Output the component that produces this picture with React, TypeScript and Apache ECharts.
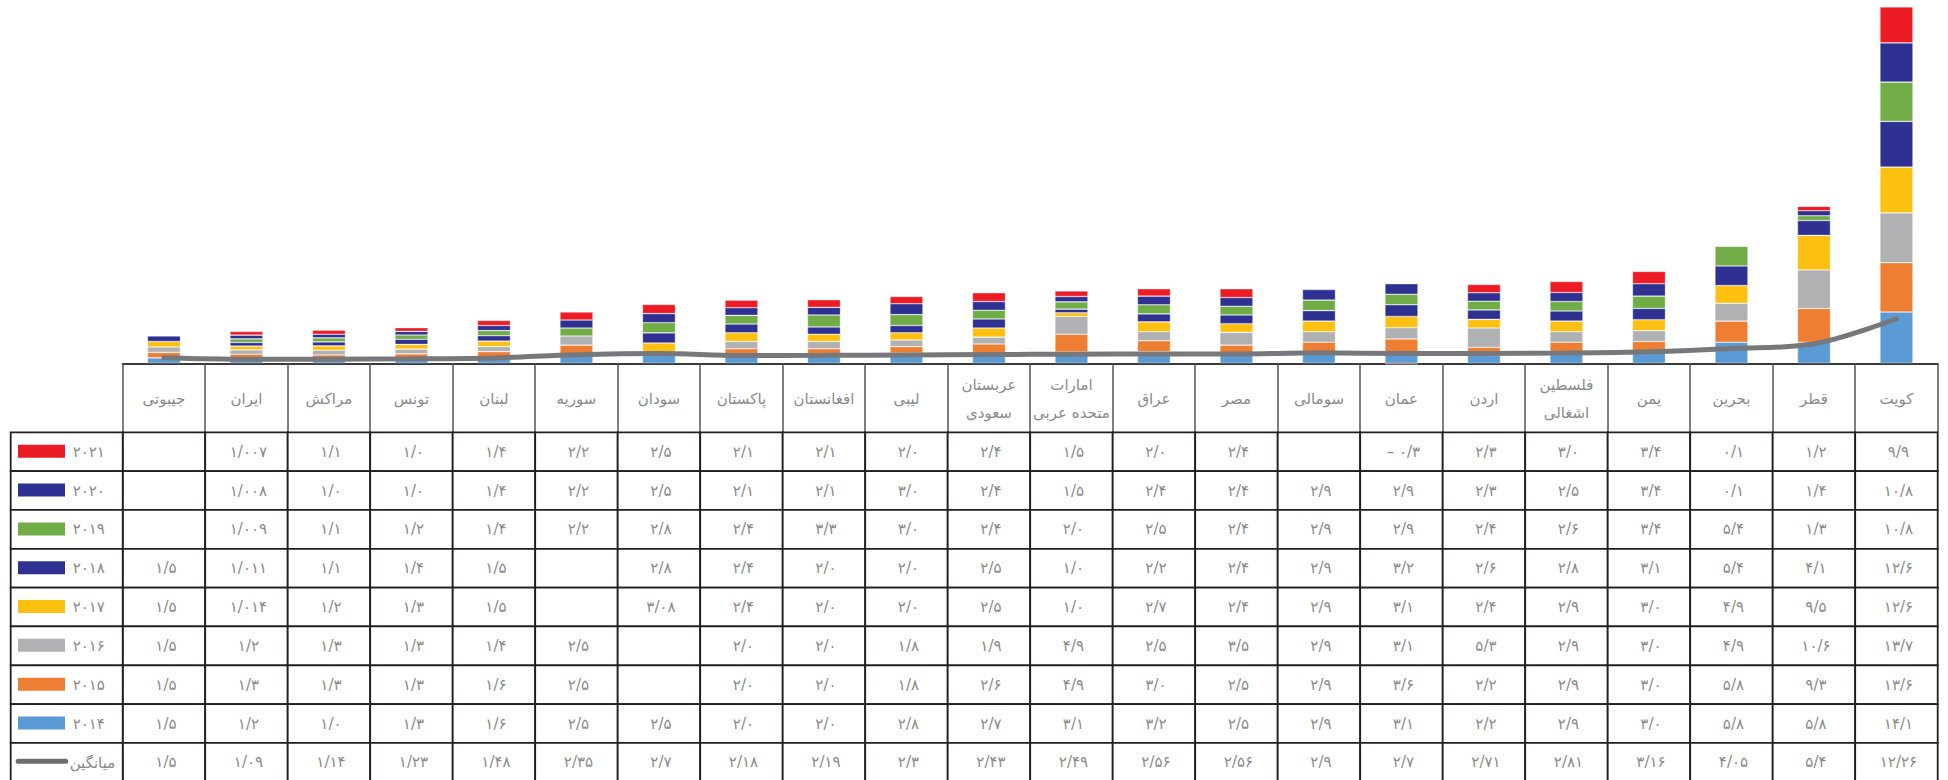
import React, { useEffect, useRef } from 'react';
import * as echarts from 'echarts';

// ---------- data ----------
const countries = [
  'جیبوتی', 'ایران', 'مراکش', 'تونس', 'لبنان', 'سوریه', 'سودان', 'پاکستان', 'افغانستان', 'لیبی',
  'عربستان سعودی', 'امارات متحده عربی', 'عراق', 'مصر', 'سومالی', 'عمان', 'اردن', 'فلسطین اشغالی',
  'یمن', 'بحرین', 'قطر', 'کویت',
];
const years = ['2014', '2015', '2016', '2017', '2018', '2019', '2020', '2021'];

const v2014 = [1.5, 1.2, 1.0, 1.3, 1.6, 2.5, 2.5, 2.0, 2.0, 2.8, 2.7, 3.1, 3.2, 2.5, 2.9, 3.1, 2.2, 2.9, 3.0, 5.8, 5.8, 14.1];
const v2015 = [1.5, 1.3, 1.3, 1.3, 1.6, 2.5, null, 2.0, 2.0, 1.8, 2.6, 4.9, 3.0, 2.5, 2.9, 3.6, 2.2, 2.9, 3.0, 5.8, 9.3, 13.6];
const v2016 = [1.5, 1.2, 1.3, 1.3, 1.4, 2.5, null, 2.0, 2.0, 1.8, 1.9, 4.9, 2.5, 3.5, 2.9, 3.1, 5.3, 2.9, 3.0, 4.9, 10.6, 13.7];
const v2017 = [1.5, 1.014, 1.2, 1.3, 1.5, null, 3.08, 2.4, 2.0, 2.0, 2.5, 1.0, 2.7, 2.4, 2.9, 3.1, 2.4, 2.9, 3.0, 4.9, 9.5, 12.6];
const v2018 = [1.5, 1.011, 1.1, 1.4, 1.5, null, 2.8, 2.4, 2.0, 2.0, 2.5, 1.0, 2.2, 2.4, 2.9, 3.2, 2.6, 2.8, 3.1, 5.4, 4.1, 12.6];
const v2019 = [null, 1.009, 1.1, 1.2, 1.4, 2.2, 2.8, 2.4, 3.3, 3.0, 2.4, 2.0, 2.5, 2.4, 2.9, 2.9, 2.4, 2.6, 3.4, 5.4, 1.3, 10.8];
const v2020 = [null, 1.008, 1.0, 1.0, 1.4, 2.2, 2.5, 2.1, 2.1, 3.0, 2.4, 1.5, 2.4, 2.4, 2.9, 2.9, 2.3, 2.5, 3.4, 0.1, 1.4, 10.8];
const v2021 = [null, 1.007, 1.1, 1.0, 1.4, 2.2, 2.5, 2.1, 2.1, 2.0, 2.4, 1.5, 2.0, 2.4, null, -0.3, 2.3, 3.0, 3.4, 0.1, 1.2, 9.9];
const average = [1.5, 1.09, 1.14, 1.23, 1.48, 2.35, 2.7, 2.18, 2.19, 2.3, 2.43, 2.49, 2.56, 2.56, 2.9, 2.7, 2.71, 2.81, 3.16, 4.05, 5.4, 12.26];
const averageName = 'میانگین';

const yearValues = [v2014, v2015, v2016, v2017, v2018, v2019, v2020, v2021];

// ---------- styles ----------
const yearColors = ['#5B9BD5', '#EE7E31', '#B0B1B3', '#FDC010', '#2E3192', '#70AD47', '#2E3192', '#ED1C24'];
const lineColor = '#77787B';
const borderColor = '#231F20';
const textColor = '#8A8A8A';
const fontFamily = '"DejaVu Sans", "Noto Sans", sans-serif';

const FA_DIGITS = '۰۱۲۳۴۵۶۷۸۹';
const toFa = (s: string) => s.replace(/\d/g, (d) => FA_DIGITS[+d]);
const fmt = (v: number | null | undefined) => {
  if (v === null || v === undefined) return '';
  let s = String(Math.abs(v));
  if (!s.includes('.')) s += '.0';
  return (v < 0 ? '– ' : '') + toFa(s.replace('.', '/'));
};

// table rows, top to bottom: 2021 ... 2014, average
const tableRows: (number | null)[][] = [...yearValues].reverse().concat([average]);
const tableColors = [...yearColors].reverse();
const tableLabels = [...years].reverse().map(toFa).concat([averageName]);

export default function App() {
  const ref = useRef<HTMLDivElement>(null);

  useEffect(() => {
    if (!ref.current) return;
    const chart = echarts.init(ref.current, undefined, { renderer: 'svg' });

    const plotLeft = 122.7;
    const plotWidth = 1815;
    const axisY = 363.3;
    const tableTop = 432.3;
    const rowH = 38.83;
    const legendW = 112;

    const cells: number[][] = [];
    for (let r = 0; r < tableRows.length; r++) {
      for (let c = 0; c < countries.length; c++) cells.push([c, r]);
    }

    const barSeries = yearValues.map((vals, i) => ({
      type: 'bar',
      name: toFa(years[i]),
      stack: 'total',
      xAxisIndex: 0,
      yAxisIndex: 0,
      barWidth: 33,
      clip: false,
      data: vals.map((v) => (v === null ? '-' : v)),
      itemStyle: { color: yearColors[i], borderColor: 'rgba(255,255,255,0.55)', borderWidth: 0.6 },
    }));

    const option: any = {
      animation: false,
      textStyle: { fontFamily },
      grid: [
        { left: plotLeft, top: 0, width: plotWidth, height: axisY, outerBoundsMode: 'none' },
        { left: plotLeft, top: tableTop, width: plotWidth, height: rowH * tableRows.length, outerBoundsMode: 'none' },
      ],
      xAxis: [
        {
          type: 'category',
          gridIndex: 0,
          data: countries,
          axisLine: { show: true, lineStyle: { color: '#3A3A3A', width: 2 } },
          axisTick: { show: true, interval: 0, length: tableTop - axisY, lineStyle: { color: '#555555', width: 1.5 } },
          axisLabel: {
            show: true,
            interval: 0,
            margin: 36,
            verticalAlign: 'middle',
            color: textColor,
            fontSize: 15,
            lineHeight: 28,
            fontFamily,
            formatter: (name: string) => (name.length > 10 ? name.replace(' ', '\n') : name),
          },
          splitLine: { show: false },
        },
        { type: 'category', gridIndex: 1, data: countries, show: false },
      ],
      yAxis: [
        { type: 'value', gridIndex: 0, min: 0, max: 100, show: false, splitLine: { show: false } },
        { type: 'category', gridIndex: 1, data: tableLabels, inverse: true, show: false },
      ],
      series: [
        ...barSeries,
        {
          type: 'line',
          name: averageName,
          xAxisIndex: 0,
          yAxisIndex: 0,
          data: average,
          smooth: 0.35,
          symbol: 'none',
          z: 10,
          lineStyle: { color: lineColor, width: 5, cap: 'round' },
          itemStyle: { color: lineColor },
        },
        {
          type: 'custom',
          name: 'table',
          xAxisIndex: 1,
          yAxisIndex: 1,
          clip: false,
          data: cells,
          renderItem: (params: any, api: any) => {
            const c = api.value(0) as number;
            const r = api.value(1) as number;
            const p = api.coord([c, r]);
            const s = api.size([1, 1]);
            const x0 = p[0] - s[0] / 2;
            const y0 = p[1] - s[1] / 2;
            const children: any[] = [
              {
                type: 'rect',
                shape: { x: x0, y: y0, width: s[0], height: s[1] },
                style: { fill: '#fff', stroke: borderColor, lineWidth: 1.8 },
              },
            ];
            const t = fmt(tableRows[r][c]);
            if (t) {
              children.push({
                type: 'text',
                x: p[0] + 2,
                y: p[1],
                style: { text: t, align: 'center', verticalAlign: 'middle', fill: textColor, fontSize: 15, fontFamily },
              });
            }
            if (c === 0) {
              const lx = x0 - legendW;
              children.push({
                type: 'rect',
                shape: { x: lx, y: y0, width: legendW, height: s[1] },
                style: { fill: '#fff', stroke: borderColor, lineWidth: 1.8 },
              });
              if (r < tableColors.length) {
                children.push({
                  type: 'rect',
                  shape: { x: lx + 7.3, y: p[1] - 7, width: 47, height: 13 },
                  style: { fill: tableColors[r] },
                });
                children.push({
                  type: 'text',
                  x: lx + 62,
                  y: p[1],
                  style: { text: tableLabels[r], align: 'left', verticalAlign: 'middle', fill: textColor, fontSize: 15, fontFamily },
                });
              } else {
                children.push({
                  type: 'line',
                  shape: { x1: lx + 7.5, y1: p[1] - 1, x2: lx + 55, y2: p[1] - 1 },
                  style: { stroke: '#6D6E71', lineWidth: 5, lineCap: 'round' },
                });
                children.push({
                  type: 'text',
                  x: lx + 59,
                  y: p[1] + 1,
                  style: { text: tableLabels[r], align: 'left', verticalAlign: 'middle', fill: textColor, fontSize: 15, fontFamily },
                });
              }
            }
            return { type: 'group', children };
          },
        },
      ],
    };

    chart.setOption(option);
    return () => chart.dispose();
  }, []);

  return (
    <div
      ref={ref}
      style={{ position: 'absolute', left: 0, top: 0, width: 1948, height: 780, background: '#fff' }}
    />
  );
}
